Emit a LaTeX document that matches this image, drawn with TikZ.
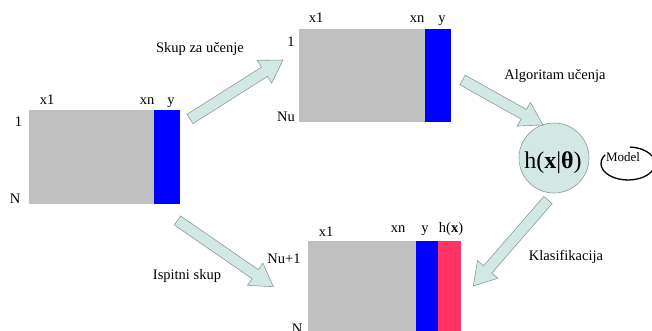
\documentclass[tikz,border=0pt]{standalone}
\usepackage{fontspec}
\setmainfont{Liberation Serif}
\usetikzlibrary{calc}
\definecolor{matgray}{HTML}{C0C0C0}
\definecolor{matblue}{HTML}{0000FF}
\definecolor{matred}{HTML}{FF3366}
\definecolor{arrowfill}{HTML}{D2E8E4}
\definecolor{arrowline}{HTML}{8C9C9A}
\newcommand\blockarrow[2]{%
  \coordinate (ba-n) at ($(#2)!22pt!(#1)$);
  \draw[fatarrow] ($(#1)!5.5pt!90:(#2)$) -- ($(ba-n)!5.5pt!-90:(#1)$)
    -- ($(ba-n)!13.5pt!-90:(#1)$) -- (#2) -- ($(ba-n)!13.5pt!90:(#1)$)
    -- ($(ba-n)!5.5pt!90:(#1)$) -- ($(#1)!5.5pt!-90:(#2)$) -- cycle;
}
\begin{document}
\begin{tikzpicture}[x=1pt,y=-1pt,
  lbl/.style={font=\fontsize{14.5}{16}\selectfont, inner sep=0pt, anchor=base},
  fatarrow/.style={draw=arrowline, fill=arrowfill, line width=0.6pt, line join=miter},
  graycell/.style={fill=matgray},
  bluecell/.style={fill=matblue},
  redcell/.style={fill=matred}]
\clip (0,0) rectangle (652,331);
\fill[white] (0,0) rectangle (652,331);

% left matrix (full data set)
\fill[graycell] (29,110) rectangle (154,204);
\fill[bluecell] (154,110) rectangle (180,204);
\node[lbl] (lx1) at (47,105) {x1};
\node[lbl] (lxn) at (147,105) {xn};
\node[lbl] (ly) at (171,105) {y};
\node[lbl] (l1) at (18.5,127) {1};
\node[lbl] (lN) at (15,203) {N};

% top matrix (training set)
\fill[graycell] (299,29) rectangle (425,122);
\fill[bluecell] (425,29) rectangle (451,122);
\node[lbl] (tx1) at (316,23) {x1};
\node[lbl] (txn) at (417,23) {xn};
\node[lbl] (ty) at (442,23) {y};
\node[lbl] (t1) at (291,47) {1};
\node[lbl] (tNu) at (286,122) {Nu};

% bottom matrix (test set)
\fill[graycell] (308,241) rectangle (416,340);
\fill[bluecell] (416,241) rectangle (438,340);
\fill[redcell] (438,241) rectangle (461,340);
\node[lbl] (bx1) at (326,236) {x1};
\node[lbl] (bxn) at (398,232) {xn};
\node[lbl] (by) at (425,232) {y};
\node[lbl] (bh) at (451,232) {h(\textbf{x})};
\node[lbl] (bNu) at (284,263) {Nu+1};
\node[lbl] (bN) at (297,333) {N};

% model circle
\node[circle, draw=arrowline, fill=arrowfill, line width=0.6pt, minimum size=70pt, inner sep=0pt] (h) at (554,158) {};
\node[font=\fontsize{24}{28}\selectfont, inner sep=0pt, anchor=base] (htxt) at (553,168) {h(\textbf{x}|\textbf{θ})};

% Model label with curve
\node[font=\fontsize{13}{15}\selectfont, inner sep=0pt, anchor=base] (model) at (623,161) {Model};
\coordinate (mc) at (628,163.5);
\draw[line width=1.3pt] (mc) ++(148:27pt and 16.5pt) arc[start angle=148, end angle=446, x radius=27pt, y radius=16.5pt];

% arrows
\coordinate (a1s) at (190,119);   \coordinate (a1e) at (283,60);
\coordinate (a2s) at (462.5,80);  \coordinate (a2e) at (543,125);
\coordinate (a3s) at (177.5,220.5); \coordinate (a3e) at (273.3,286.7);
\coordinate (a4s) at (548,200);   \coordinate (a4e) at (473.3,286);
\blockarrow{a1s}{a1e}
\blockarrow{a2s}{a2e}
\blockarrow{a3s}{a3e}
\blockarrow{a4s}{a4e}

% arrow labels
\node[lbl] (skup) at (200,53) {Skup za učenje};
\node[lbl] (alg) at (555,80) {Algoritam učenja};
\node[lbl] (klas) at (566,260) {Klasifikacija};
\node[lbl] (isp) at (187,279) {Ispitni skup};
\end{tikzpicture}
\end{document}
